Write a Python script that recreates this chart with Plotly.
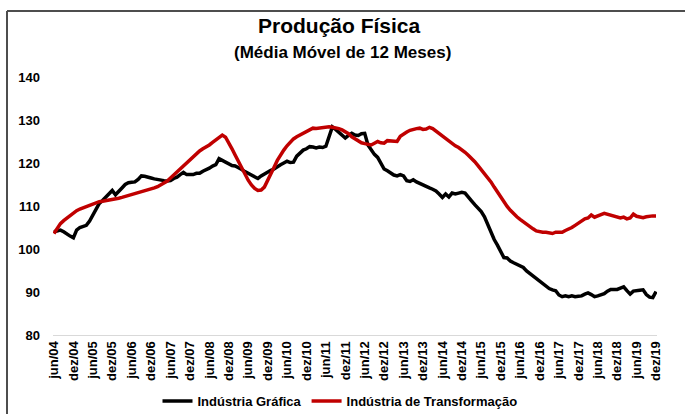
import plotly.graph_objects as go

months_pt = ["jan", "fev", "mar", "abr", "mai", "jun", "jul", "ago", "set", "out", "nov", "dez"]

# Monthly index 0 = jun/04 ... 186 = dez/19
grafica = [
    104.0, 104.3, 104.4, 104.0, 103.4, 103.0, 102.6, 104.4, 105.0, 105.2, 105.5, 106.5,
    108.0, 109.5, 110.6, 111.3, 112.0, 112.8, 113.6, 112.6, 113.3, 114.2, 115.0, 115.4,
    115.5, 115.6, 116.2, 117.0, 116.9, 116.6, 116.5, 116.3, 116.1, 116.0, 115.9, 115.8,
    115.9, 116.4, 116.7, 117.3, 117.8, 117.3, 117.2, 117.3, 117.6, 117.6, 118.1, 118.4,
    118.8, 119.3, 119.6, 121.0, 120.6, 120.1, 119.6, 119.4, 119.3, 119.0, 118.5, 118.0,
    117.6, 117.2, 116.7, 116.4, 117.0, 117.5, 117.9, 118.3, 118.6, 119.2, 119.6, 120.0,
    120.4, 120.1, 120.2, 121.6, 122.3, 123.0, 123.3, 123.8, 123.7, 123.5, 123.7, 123.6,
    123.9, 126.5, 128.4, 127.8, 127.1, 126.5, 125.8, 126.4, 126.9, 126.5, 126.4, 126.8,
    126.9, 124.2, 123.0, 122.0, 121.3, 120.0, 118.6, 118.2, 117.6, 117.2, 117.0, 117.3,
    117.0, 115.9, 115.7, 116.1, 115.6, 115.2, 115.0, 114.6, 114.2, 113.9, 113.5, 112.8,
    112.0, 112.8, 112.1, 113.0, 112.8, 113.0, 113.2, 113.0, 112.2, 111.2, 110.3, 109.6,
    108.7, 107.5, 105.6, 104.2, 102.2, 100.9, 99.6, 98.0, 97.9, 97.2, 96.8, 96.4,
    95.9, 95.7, 94.9, 94.3, 93.7, 93.0, 92.4, 91.9, 91.3, 90.8, 90.5, 90.3,
    89.3, 88.9, 89.1, 88.9, 89.1, 88.9, 89.0, 89.1, 89.5, 89.8, 89.4, 88.9,
    89.1, 89.3, 89.6, 90.2, 90.6, 90.6, 90.6, 90.9, 91.2, 90.3, 89.5, 90.2,
    90.4, 90.4, 90.5, 89.4, 88.8, 88.7, 90.1,
]

transformacao = [
    103.6, 104.8, 105.9, 106.6, 107.2, 107.8, 108.4, 108.9, 109.3, 109.6, 109.9, 110.2,
    110.5, 110.8, 111.0, 111.1, 111.2, 111.3, 111.5, 111.6, 111.8, 112.0, 112.2, 112.4,
    112.7, 112.8, 113.0, 113.3, 113.5, 113.8, 114.0, 114.2, 114.5, 114.9, 115.3, 115.8,
    116.5, 117.2, 117.9, 118.7, 119.3, 120.0, 120.8, 121.6, 122.2, 122.8, 123.3, 123.7,
    124.2, 124.8, 125.4, 126.0, 126.5, 126.0, 124.8, 123.3, 121.8, 120.3, 118.7, 117.2,
    116.0, 114.9, 114.1, 113.6, 113.7, 114.4, 115.8, 117.4, 119.0, 120.6, 121.9, 123.0,
    124.0, 124.9, 125.6, 126.1, 126.5, 126.8, 127.2, 127.6, 128.1, 128.0, 128.1, 128.3,
    128.2, 128.4, 128.3, 128.2, 128.0, 127.7, 127.3, 126.8, 126.1, 125.6, 125.1, 124.7,
    124.5, 124.4, 124.2, 124.6, 125.0, 124.7, 124.6, 125.2, 125.1, 125.0, 125.0, 126.2,
    126.8, 127.2, 127.6, 127.9, 128.0, 128.1, 127.8, 127.9, 128.3, 128.0, 127.4, 126.9,
    126.4, 125.8, 125.1, 124.6, 124.0, 123.6, 123.1, 122.5, 121.8, 121.1, 120.3, 119.4,
    118.5, 117.7, 116.8, 115.6, 114.4, 113.2, 112.0, 110.8, 109.9, 109.0, 108.2, 107.5,
    106.9, 106.3, 105.8, 105.3, 104.7, 104.2, 104.0, 103.9, 103.9, 103.8, 103.6, 103.9,
    103.8, 103.9, 104.3, 104.6, 105.0, 105.5, 106.0, 106.6, 107.0, 107.2, 107.9, 107.4,
    107.6, 108.0, 108.3, 108.1, 107.9, 107.8, 107.5, 107.2, 107.4, 107.0, 107.2, 108.1,
    107.6, 107.4, 107.3, 107.5, 107.7, 107.7, 107.7,
]

# month labels
labels = []
m, y = 5, 4  # jun/04
for _ in range(len(grafica)):
    labels.append(f"{months_pt[m]}/{y:02d}")
    m += 1
    if m == 12:
        m, y = 0, y + 1

x = list(range(len(grafica)))
tickvals = x[::6]
ticktext = [labels[i] for i in tickvals]

FONT = "Liberation Sans, Arial, sans-serif"

fig = go.Figure()
fig.add_trace(go.Scatter(x=x, y=grafica, mode="lines", name="<b>Indústria Gráfica</b>",
                         line=dict(color="#000000", width=3.5)))
fig.add_trace(go.Scatter(x=x, y=transformacao, mode="lines", name="<b>Indústria de Transformação</b>",
                         line=dict(color="#c00000", width=3.5)))

W, H = 685, 414
L, R, T, B = 53, 28, 77, 79
pw = W - L - R
ph = H - T - B

def px(xp):
    return (xp - L) / pw

def py(yp):
    return (H - B - yp) / ph

fig.update_layout(
    width=W, height=H,
    margin=dict(l=L, r=R, t=T, b=B, autoexpand=False),
    paper_bgcolor="white", plot_bgcolor="white",
    font=dict(family=FONT, size=13, color="#000"),
    showlegend=True,
    legend=dict(orientation="h", x=px(340), xanchor="center", y=py(401), yanchor="middle",
                font=dict(size=13, family=FONT, color="#000"), itemwidth=30,
                traceorder="normal", bgcolor="rgba(0,0,0,0)"),
    xaxis=dict(range=[-0.3, 186.3], tickmode="array", tickvals=tickvals, ticktext=ticktext,
               tickangle=-90, showgrid=False, zeroline=False, showline=True,
               linecolor="#d9d9d9", linewidth=1, ticks="", automargin=False,
               tickfont=dict(size=13, family=FONT, color="#000", weight="bold")),
    yaxis=dict(range=[80, 140], tickvals=[80, 90, 100, 110, 120, 130, 140],
               showgrid=False, zeroline=False, showline=False, ticks="",
               ticklabelstandoff=12, automargin=False,
               tickfont=dict(size=13, family=FONT, color="#000", weight="bold")),
    annotations=[
        dict(text="<b>Produção Física</b>", xref="paper", yref="paper",
             x=px(339), y=py(25), xanchor="center", yanchor="middle", showarrow=False,
             font=dict(size=21, family=FONT, color="#000")),
        dict(text="<b>(Média Móvel de 12 Meses)</b>", xref="paper", yref="paper",
             x=px(342), y=py(52), xanchor="center", yanchor="middle", showarrow=False,
             font=dict(size=17, family=FONT, color="#000")),
    ],
    shapes=[
        dict(type="line", xref="paper", yref="paper", x0=px(7), x1=px(700),
             y0=py(11), y1=py(11), line=dict(color="#4d4d4d", width=2)),
        dict(type="line", xref="paper", yref="paper", x0=px(7), x1=px(7),
             y0=py(11), y1=py(430), line=dict(color="#4d4d4d", width=2)),
    ],
)

fig.write_html("out.html", config={"displayModeBar": False},
               post_script="document.body.style.margin='0';document.body.style.padding='0';")
